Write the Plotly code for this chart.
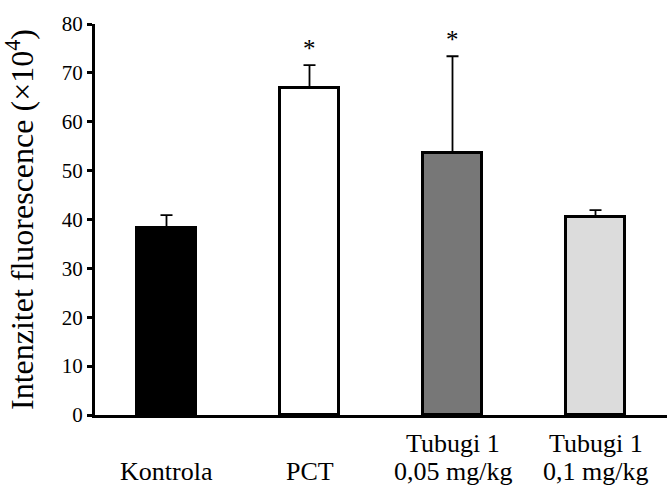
import plotly.graph_objects as go

categories = ["Kontrola", "PCT", "Tubugi 1\n0,05 mg/kg", "Tubugi 1\n0,1 mg/kg"]
means = [38.2, 66.9, 53.6, 40.5]
sem = [2.7, 4.7, 19.8, 1.4]
significance = ["", "*", "*", ""]
bar_colors = ["#000000", "#ffffff", "#777777", "#dcdcdc"]
y_ticks = [0, 10, 20, 30, 40, 50, 60, 70, 80]

FONT = "Liberation Serif, Times New Roman, serif"
xs = list(range(len(categories)))

fig = go.Figure()
fig.add_trace(go.Bar(
    x=xs, y=means, width=0.41,
    marker=dict(color=bar_colors, line=dict(color="black", width=3)),
    error_y=dict(type="data", symmetric=False, array=sem,
                 arrayminus=[0] * len(sem), color="black",
                 thickness=1.8, width=6),
    showlegend=False,
))

annotations = []
for i, (cat, m, e, s) in enumerate(zip(categories, means, sem, significance)):
    lines = cat.split("\n")
    n = len(lines)
    for j, line in enumerate(lines):
        annotations.append(dict(
            x=i, y=0, xref="x", yref="y", text=line, showarrow=False,
            xanchor="center", yanchor="middle",
            yshift=-(56 - (n - 1 - j) * 28),
            font=dict(family=FONT, size=26, color="black")))
    if s:
        annotations.append(dict(
            x=i, y=m + e, xref="x", yref="y", text=s, showarrow=False,
            xanchor="center", yanchor="middle", yshift=17,
            font=dict(family=FONT, size=25, color="black")))

fig.update_layout(
    width=667, height=488,
    margin=dict(l=95, r=0, t=24, b=73),
    paper_bgcolor="white", plot_bgcolor="white",
    font=dict(family=FONT, color="black"),
    annotations=annotations,
    bargap=0,
)
fig.update_xaxes(
    range=[-0.5, 3.5], showticklabels=False, ticks="",
    showline=True, linecolor="black", linewidth=3,
    showgrid=False, zeroline=False, fixedrange=True, automargin=False,
)
fig.update_yaxes(
    range=[0, 80], tickvals=y_ticks, ticks="outside", ticklen=5,
    tickwidth=2.5, tickcolor="black",
    showline=True, linecolor="black", linewidth=3,
    showgrid=False, zeroline=False, automargin=False,
    tickfont=dict(family=FONT, size=21, color="black"),
    title=dict(text="Intenzitet fluorescence (×10<sup>4</sup>)",
               font=dict(family=FONT, size=32, color="black"), standoff=22),
)

fig.write_html(
    "out.html",
    config={"responsive": False, "displayModeBar": False},
    post_script="document.body.style.margin='0';document.body.style.overflow='hidden';",
)
